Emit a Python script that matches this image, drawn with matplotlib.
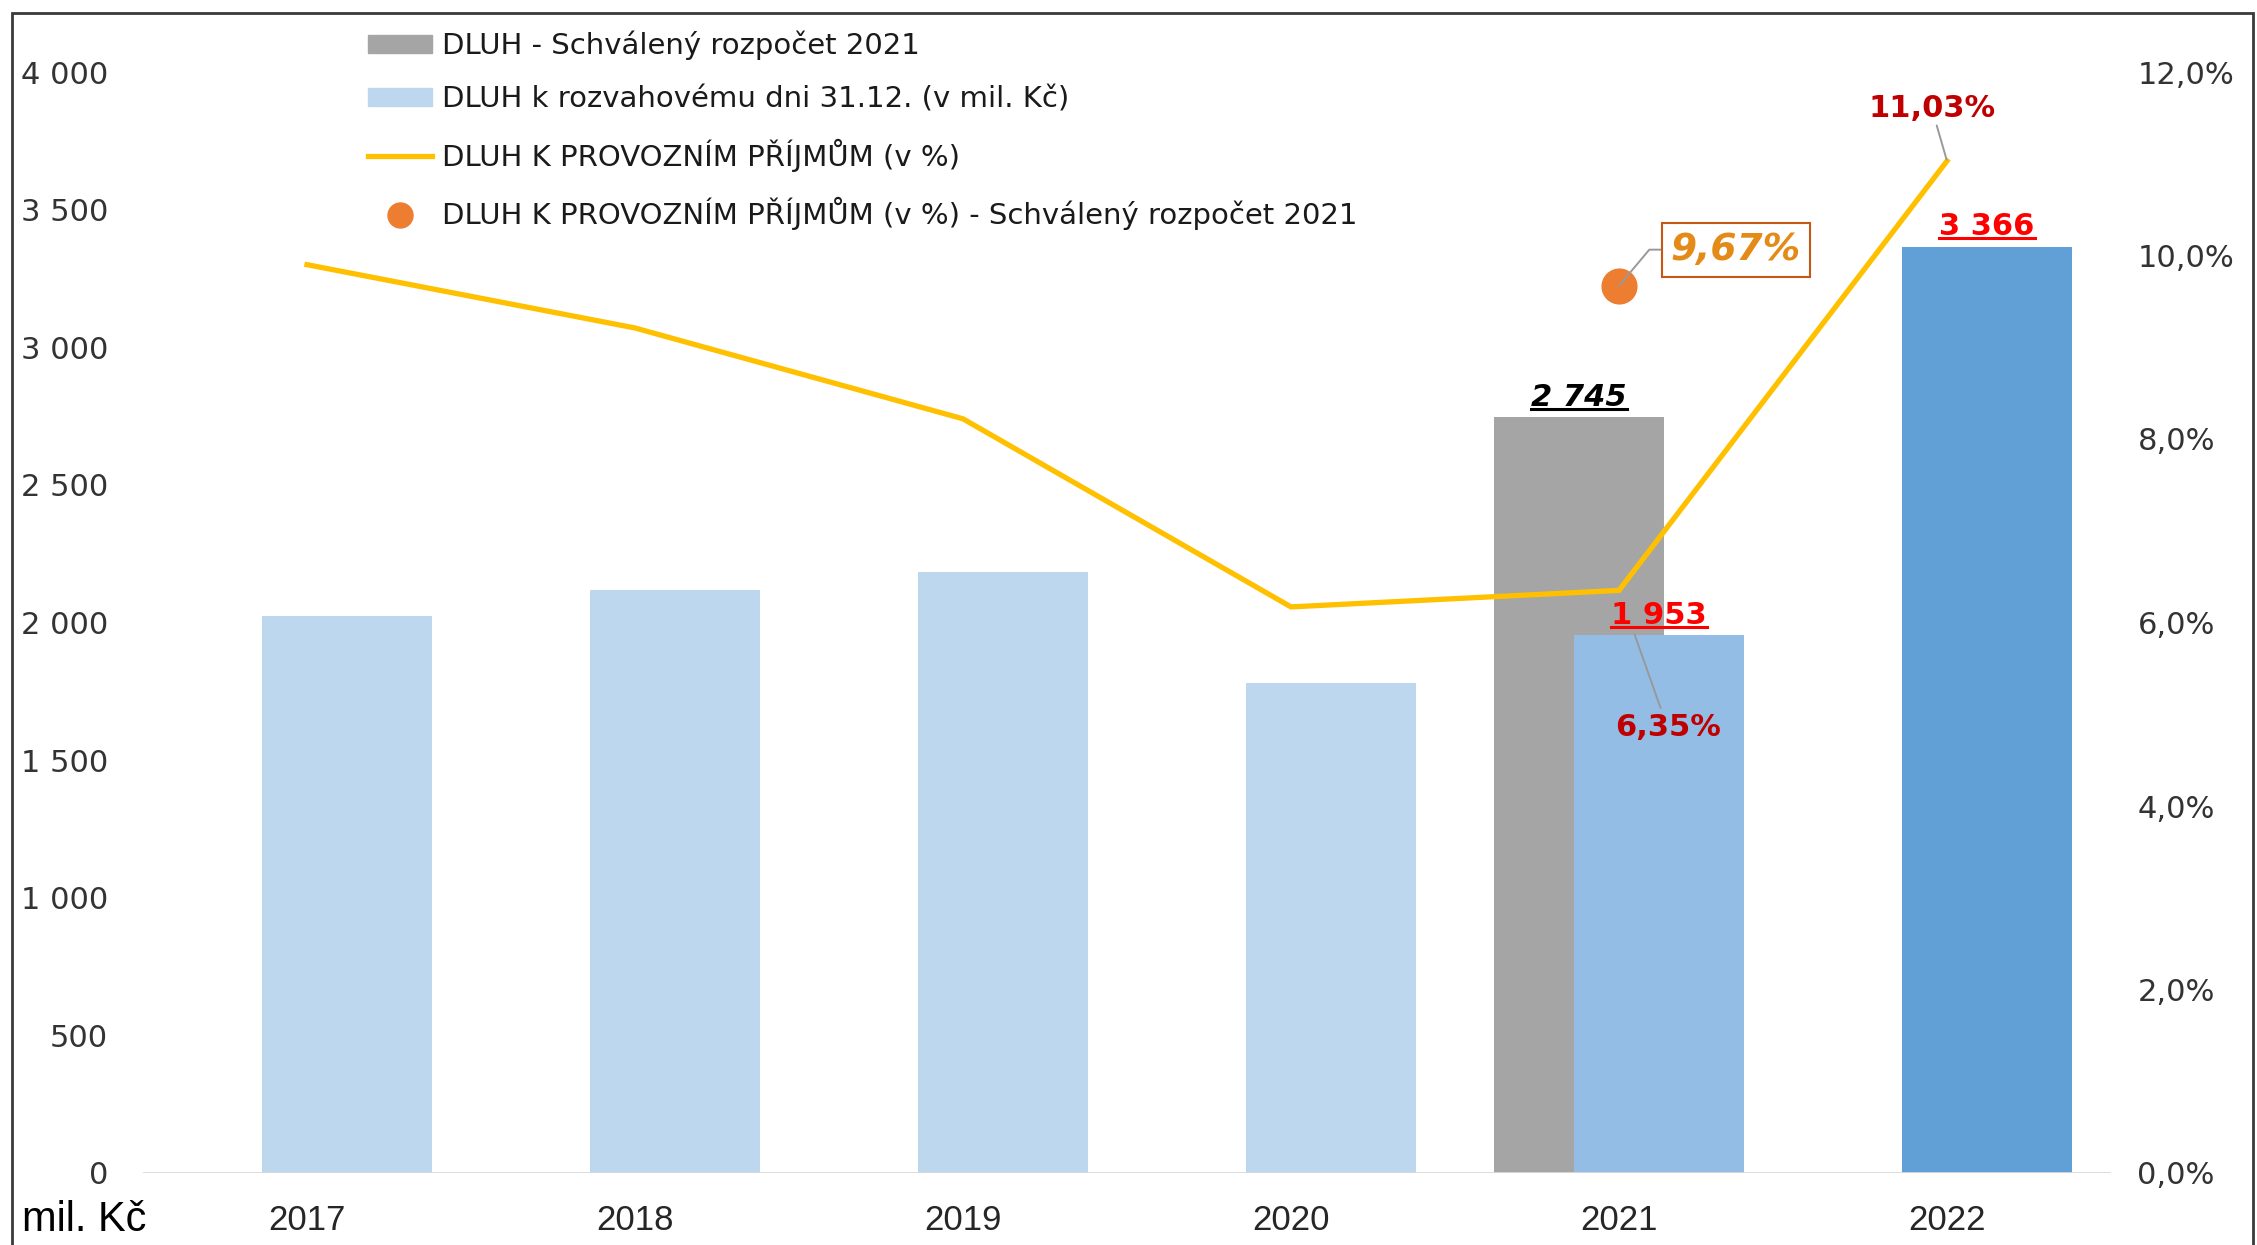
import numpy as np
import matplotlib
matplotlib.use("Agg")
import matplotlib.pyplot as plt
from matplotlib.patches import Patch, Rectangle
from matplotlib.lines import Line2D
from matplotlib.ticker import FuncFormatter, MultipleLocator

plt.rcParams['font.family'] = ['DejaVu Sans']

# ---------------- data ----------------
years = ['2017', '2018', '2019', '2020', '2021', '2022']
debt_actual = [2025, 2118, 2182, 1782, 1953, 3366]          # DLUH k rozvahovému dni 31.12. (v mil. Kč)
debt_budget = [np.nan, np.nan, np.nan, np.nan, 2745, np.nan]  # DLUH - Schválený rozpočet 2021
ratio = [9.90, 9.21, 8.22, 6.17, 6.35, 11.03]                 # DLUH K PROVOZNÍM PŘÍJMŮM (v %)
ratio_budget = [np.nan, np.nan, np.nan, np.nan, 9.67, np.nan] # ... - Schválený rozpočet 2021

legend_labels = ['DLUH - Schválený rozpočet 2021',
                 'DLUH k rozvahovému dni 31.12. (v mil. Kč)',
                 'DLUH K PROVOZNÍM PŘÍJMŮM (v %)',
                 'DLUH K PROVOZNÍM PŘÍJMŮM (v %) - Schválený rozpočet 2021']

# ---------------- styles ----------------
bar_colors = ['#BDD7EE', '#BDD7EE', '#BDD7EE', '#BDD7EE', '#93BDE4', '#619FD7']
gray = '#A5A5A5'
yellow = '#FFC000'
orange = '#ED7D31'
W, H = 2257, 1245

fig = plt.figure(figsize=(W / 100, H / 100), dpi=100)
ax = fig.add_axes([143 / W, 1 - 1173 / H, (2111 - 143) / W, (1173 - 72) / H])
ax2 = ax.twinx()

x = np.arange(len(years))
bw = 0.52
off = 0.122

bud = np.array(debt_budget, dtype=float)
m = ~np.isnan(bud)
ax.bar(x[m] - off, bud[m], bw, color=gray, zorder=1.5)
ax.bar(x + off, debt_actual, bw, color=bar_colors, zorder=2)
ax.axhline(0, color='#D9D9D9', lw=2, zorder=3)

ax2.plot(x, ratio, color=yellow, lw=3.8, solid_joinstyle='miter', zorder=4)
rb = np.array(ratio_budget, dtype=float)
mb = ~np.isnan(rb)
ax2.plot(x[mb], rb[mb], 'o', color=orange, ms=25, zorder=5)

ax.set_xlim(-0.5, len(years) - 0.5)
ax.set_ylim(0, 4000)
ax2.set_ylim(0, 12)

for a in (ax, ax2):
    for s in a.spines.values():
        s.set_visible(False)

ax.yaxis.set_major_locator(MultipleLocator(500))
ax.yaxis.set_major_formatter(FuncFormatter(lambda v, p: f'{int(v):,}'.replace(',', ' ')))
ax2.yaxis.set_major_locator(MultipleLocator(2))
ax2.yaxis.set_major_formatter(FuncFormatter(lambda v, p: f'{v:.1f}%'.replace('.', ',')))
ax.tick_params(axis='y', length=0, pad=25, labelsize=22, labelcolor='#333333')
ax2.tick_params(axis='y', length=0, pad=19, labelsize=22, labelcolor='#333333')
ax.set_xticks(x)
ax.set_xticklabels(years, fontfamily='Liberation Sans', fontsize=25, color='#262626')
ax.tick_params(axis='x', length=0, pad=22)

# ---------------- data labels ----------------
def fmt_num(v):
    return f'{int(v):,}'.replace(',', ' ')

underlined = []
i21 = 4
t = ax2.annotate(fmt_num(debt_budget[i21]),
                 xy=(x[i21] - off, debt_budget[i21]), xycoords=ax.transData,
                 xytext=(0, 4), textcoords='offset points', ha='center', va='bottom',
                 fontsize=22, fontweight='bold', fontstyle='italic', color='black', zorder=6)
underlined.append((t, 'black'))
for i in (4, 5):
    t = ax2.annotate(fmt_num(debt_actual[i]),
                     xy=(x[i] + off, debt_actual[i]), xycoords=ax.transData,
                     xytext=(0, 4), textcoords='offset points', ha='center', va='bottom',
                     fontsize=22, fontweight='bold', color='#FF0000', zorder=6)
    underlined.append((t, '#FF0000'))

lead = dict(arrowstyle='-', color='#999999', lw=1.4, shrinkA=0, shrinkB=0)
ax2.annotate(f'{ratio[5]:.2f}%'.replace('.', ','), xy=(x[5], ratio[5]),
             xytext=(-11, 38), textcoords='offset points', ha='center', va='center',
             fontsize=22, fontweight='bold', color='#C00000',
             arrowprops=dict(lead, shrinkB=1), zorder=6)
ax2.annotate(f'{ratio[4]:.2f}%'.replace('.', ','), xy=(x[4], ratio[4]),
             xytext=(35, -99), textcoords='offset points', ha='center', va='center',
             fontsize=22, fontweight='bold', color='#C00000',
             arrowprops=dict(lead, shrinkB=34, shrinkA=2), zorder=6)
ax2.annotate(f'{ratio_budget[4]:.2f}%'.replace('.', ','), xy=(x[4], ratio_budget[4]),
             xytext=(84, 26), textcoords='offset points', ha='center', va='center',
             fontsize=27, fontweight='bold', fontstyle='italic', color='#E38A17',
             bbox=dict(boxstyle='square,pad=0.24', fc='white', ec='#C65911', lw=1.5),
             arrowprops=dict(lead, connectionstyle='angle,angleA=0,angleB=50'), zorder=6)

# ---------------- legend ----------------
handles = [Patch(color=gray), Patch(color='#BDD7EE'),
           Line2D([], [], color=yellow, lw=3.8),
           Line2D([], [], ls='none', marker='o', color=orange, ms=18)]
fig.legend(handles, legend_labels, loc='upper left', bbox_to_anchor=(368 / W, 1 - 31 / H),
           frameon=False, fontsize=21, handlelength=2.2, handleheight=0.55,
           handletextpad=0.33, labelspacing=0.86, borderpad=0, borderaxespad=0,
           labelcolor='#1a1a1a')

fig.text(22 / W, 1 - 1220 / H, 'mil. Kč', fontsize=30, fontfamily='Liberation Sans',
         va='center', ha='left', color='black')

# outer frame
fig.patches.append(Rectangle((12 / W, -0.05), (2253 - 12) / W, 1.05 - 13 / H,
                             transform=fig.transFigure, fill=False, ec='#3a3a3a', lw=2))

# underline the bar value labels (measured from the rendered text)
fig.canvas.draw()
r = fig.canvas.get_renderer()
inv = fig.transFigure.inverted()
for t, c in underlined:
    bb = t.get_window_extent(r)
    (x0, y0), (x1, _) = inv.transform([(bb.x0, bb.y0 + 3), (bb.x1, bb.y0 + 3)])
    fig.add_artist(Line2D([x0, x1], [y0, y0], transform=fig.transFigure, color=c, lw=2.2))

fig.savefig('out.png', dpi=100, facecolor='white')
